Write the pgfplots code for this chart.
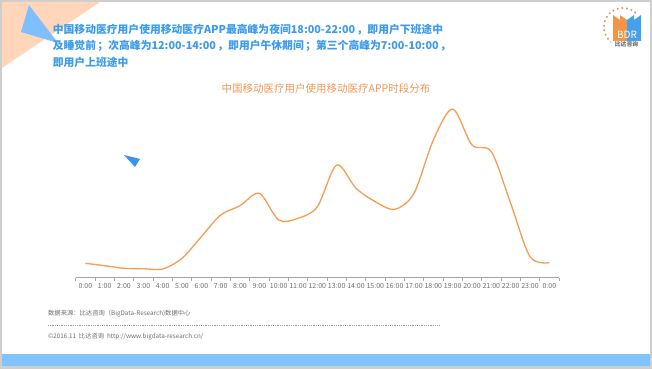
\documentclass[border=0pt]{standalone}
\usepackage{fontspec}
\setmainfont{Noto Sans CJK SC}
\usepackage{pgfplots}
\pgfplotsset{compat=1.18}
\definecolor{titleblue}{RGB}{60,155,235}
\definecolor{lineorange}{RGB}{243,158,82}
\definecolor{ctorange}{RGB}{240,152,85}
\definecolor{peach}{RGB}{255,214,186}
\definecolor{tri}{RGB}{128,191,255}
\definecolor{barblue}{RGB}{128,196,255}
\definecolor{bordergray}{RGB}{206,206,206}
\definecolor{arrowblue}{RGB}{55,150,232}
\definecolor{ticklab}{RGB}{110,110,110}
\definecolor{logoorange}{RGB}{240,150,70}
\definecolor{logoblue}{RGB}{70,160,235}
\definecolor{logodot}{RGB}{215,150,100}
\begin{document}
\begin{tikzpicture}
\path[use as bounding box] (0,0) rectangle (652bp,369bp);
\begin{scope}[x=1bp,y=1bp]
% background and border
\fill[bordergray] (0,0) rectangle (652,369);
\fill[white] (2,3) rectangle (650,367);
\fill[peach] (2,367) -- (100,367) -- (2,301) -- cycle;
\fill[tri] (29,364) -- (21,337) -- (58,326) -- cycle;
\fill[barblue] (2,3.5) rectangle (650,14.7);
\fill[arrowblue] (124,214) -- (140,210) -- (135,202) -- cycle;
% headline
\node[anchor=base west, inner sep=0, text=titleblue, font=\fontsize{10.8bp}{13bp}\selectfont\bfseries] at (52.7,336) {中国移动医疗用户使用移动医疗APP最高峰为夜间18:00-22:00\kern1.5bp，即用户下班途中};
\node[anchor=base west, inner sep=0, text=titleblue, font=\fontsize{10.8bp}{13bp}\selectfont\bfseries] at (52.7,319.5) {及睡觉前\kern1.5bp；次高峰为12:00-14:00\kern1.5bp，即用户午休期间\kern1.5bp；第三个高峰为7:00-10:00\kern1.5bp，};
\node[anchor=base west, inner sep=0, text=titleblue, font=\fontsize{10.8bp}{13bp}\selectfont\bfseries] at (52.7,303) {即用户上班途中};
% chart title
\node[anchor=base, inner sep=0, text=ctorange, font=\fontsize{10.5bp}{12bp}\selectfont] at (326,277) {中国移动医疗用户使用移动医疗APP时段分布};
% footer
\node[anchor=base west, inner sep=0, text=ticklab, font=\fontsize{6.3bp}{7bp}\selectfont] at (48,53.5) {数据来源：比达咨询（BigData-Research)数据中心};
\draw[ticklab!70, dash pattern=on 1bp off 0.8bp, line width=0.4bp] (48,43.3) -- (440,43.3);
\node[anchor=base west, inner sep=0, text=ticklab, font=\fontsize{6.3bp}{7bp}\selectfont] at (48,30.3) {©2016.11\ \ 比达咨询\ \ http://www.bigdata-research.cn/};
% logo
\foreach \a in {50,64,...,240} {
  \fill[logodot] ({623+19*cos(\a)},{342+19*sin(\a)}) circle (1.1);
}
\fill[logoorange] (613,327) -- (613,354) -- (620,349) -- (620,354) -- (627,349) -- (627,327) -- cycle;
\fill[logoblue] (627,327) -- (627,349) -- (634,354) -- (634,349) -- (641,354) -- (641,327) -- cycle;
\node[anchor=base, inner sep=0, text=white, font=\fontsize{10bp}{11bp}\selectfont] at (627,331) {BDR};
\fill[white] (611,321) rectangle (643,328);
\node[anchor=base, inner sep=0, text=ticklab, font=\fontsize{5.8bp}{6bp}\selectfont\bfseries] at (626.5,322.5) {比达咨询};
\end{scope}
\begin{axis}[
  at={(75.7bp,91.3bp)}, anchor=south west,
  width=483.3bp, height=180bp, scale only axis,
  xmin=-0.5, xmax=24.5, ymin=0, ymax=180,
  axis x line*=bottom, axis y line=none,
  axis line style={draw=black!35, line width=0.6bp, -},
  xtick={0,...,24},
  xticklabels={0:00,1:00,2:00,3:00,4:00,5:00,6:00,7:00,8:00,9:00,10:00,11:00,12:00,13:00,14:00,15:00,16:00,17:00,18:00,19:00,20:00,21:00,22:00,23:00,0:00},
  minor xtick={-0.5,0.5,...,24.5},
  major tick length=0pt, minor tick length=3bp, tick align=outside,
  minor tick style={draw=black!35, line width=0.5bp},
  xticklabel style={font=\fontsize{7bp}{8bp}\selectfont, text=ticklab, yshift=-2.5bp},
  clip=false,
]
\addplot[lineorange, line width=1.3bp, smooth, tension=0.5] coordinates {
(0,14.4) (1,12) (2,9.4) (3,9) (4,8.7) (5,19.4) (6,41) (7,62.7) (8,72) (9,84.4)
(10,57.7) (11,59.4) (12,71) (13,112.7) (14,89.4) (15,76) (16,68.4) (17,84.4)
(18,137.7) (19,168.7) (20,132.7) (21,126) (22,74.4) (23,21) (24,15)
};
\end{axis}
\end{tikzpicture}
\end{document}
